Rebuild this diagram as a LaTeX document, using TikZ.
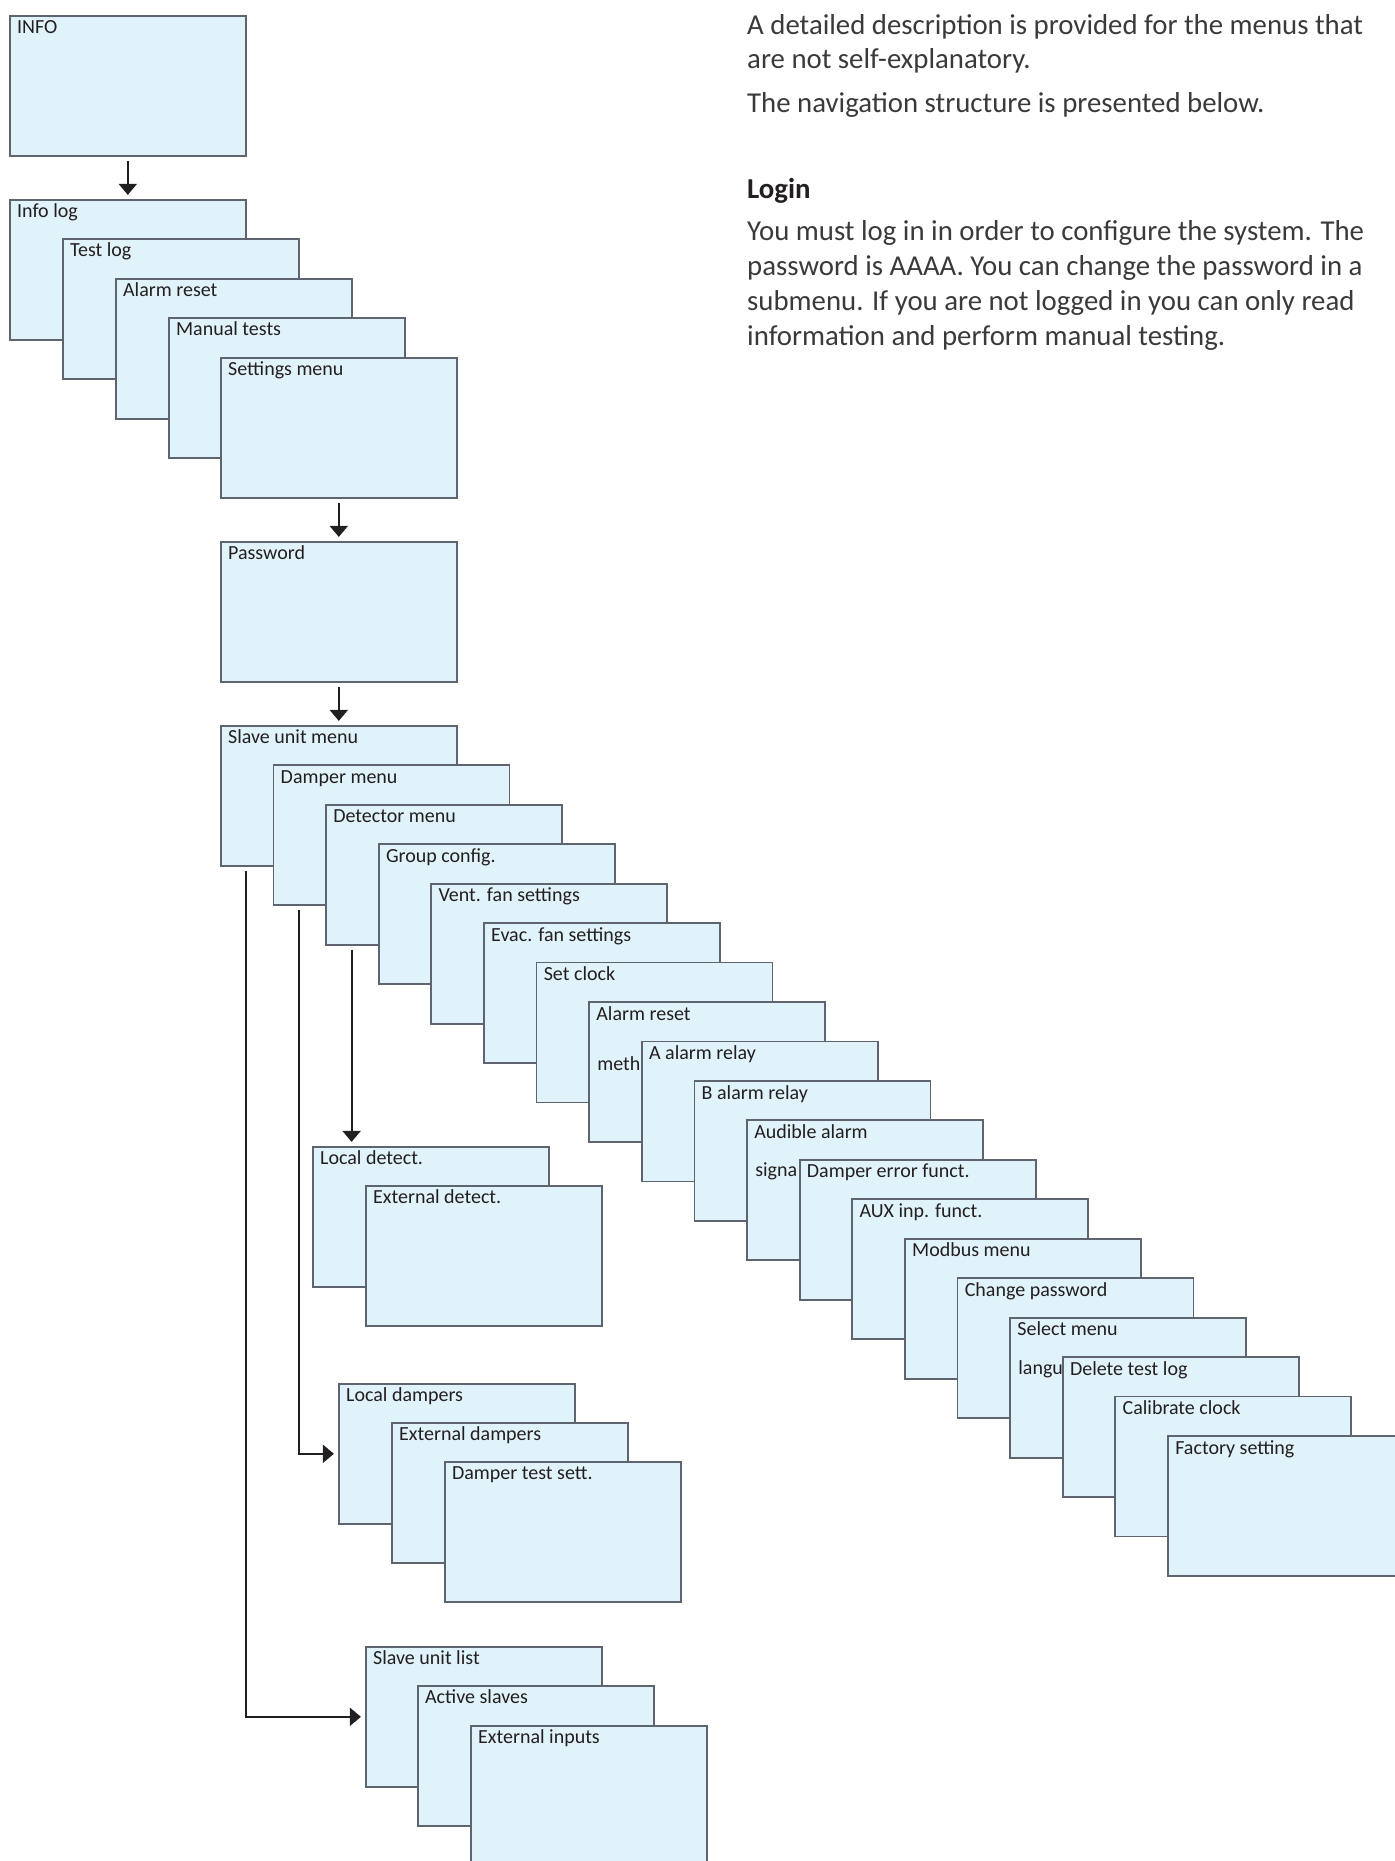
\documentclass[tikz,border=0pt]{standalone}
\usepackage{fontspec}
\setmainfont{Carlito}
\usetikzlibrary{arrows.meta}
\definecolor{boxfill}{HTML}{E0F2FA}
\definecolor{boxline}{HTML}{5E6570}
\definecolor{ink}{HTML}{231F20}
\definecolor{bodytext}{HTML}{3A3A3A}
\tikzset{
 mbox/.style={draw=boxline, line width=1.8pt, fill=boxfill, minimum width=236pt, minimum height=140pt, inner sep=0pt, anchor=north west},
 mlabel/.style={anchor=base west, inner sep=0pt, text=ink, font=\fontsize{20}{24}\selectfont},
 arr/.style={draw=ink, line width=1.9pt, -{Triangle[width=18pt,length=11pt]}, shorten <=4pt, shorten >=4pt},
 body/.style={anchor=base west, inner sep=0pt, text=bodytext, font=\fontsize{28.8}{34}\selectfont},
}
\newcommand{\mbx}[4]{%
 \node[mbox] (#1) at (#2+0.9,#3+0.9) {};
 \node[mlabel] (#1-t) at ([shift={(8,19)}]#1.north west) {#4};
}
\begin{document}
\begin{tikzpicture}[x=1pt,y=-1pt]
\useasboundingbox (0,0) rectangle (1395,1861);
\clip (0,0) rectangle (1395,1861);

% right-hand text
\node[body] (t1) at (747,34) {A detailed description is provided for the menus that};
\node[body] (t2) at (747,68.5) {are not self-explanatory.};
\node[body] (t3) at (747,112) {The navigation structure is presented below.};
\node[body, text=ink, font=\bfseries\fontsize{28.8}{34}\selectfont] (login) at (747,198) {Login};
\node[body] (t4) at (747,240.5) {You must log in in order to configure the system. The};
\node[body] (t5) at (747,275.5) {password is AAAA. You can change the password in a};
\node[body] (t6) at (747,310.5) {submenu. If you are not logged in you can only read};
\node[body] (t7) at (747,345.5) {information and perform manual testing.};

% top group
\mbx{info}{8}{14}{INFO}
\mbx{infolog}{8}{198}{Info log}
\mbx{testlog}{61}{237}{Test log}
\mbx{alarmreset}{114}{277}{Alarm reset}
\mbx{manual}{167}{316}{Manual tests}
\mbx{settings}{219}{356}{Settings menu}
\mbx{password}{219}{540}{Password}

% settings chain
\mbx{slave}{219}{724}{Slave unit menu}
\mbx{damper}{271.6}{763.5}{Damper menu}
\mbx{detector}{324.2}{802.9}{Detector menu}
\mbx{group}{376.9}{842.4}{Group config.}
\mbx{vent}{429.5}{881.8}{Vent. fan settings}
\mbx{evac}{482.1}{921.3}{Evac. fan settings}
\mbx{setclock}{534.7}{960.7}{Set clock}
\mbx{areset}{587.3}{1000.2}{Alarm reset}
\node[mlabel] (areset-2) at ([shift={(9,69)}]areset.north west) {meth};
\mbx{arelay}{640.0}{1039.6}{A alarm relay}
\mbx{brelay}{692.6}{1079.1}{B alarm relay}
\mbx{audible}{745.2}{1118.5}{Audible alarm}
\node[mlabel] (audible-2) at ([shift={(9,57.5)}]audible.north west) {signa};
\mbx{dampererr}{797.8}{1158.0}{Damper error funct.}
\mbx{aux}{850.4}{1197.4}{AUX inp. funct.}
\mbx{modbus}{903.1}{1236.9}{Modbus menu}
\mbx{chpass}{955.7}{1276.3}{Change password}
\mbx{select}{1008.3}{1315.8}{Select menu}
\node[mlabel] (select-2) at ([shift={(9,57.5)}]select.north west) {langu};
\mbx{deltest}{1060.9}{1355.2}{Delete test log}
\mbx{calib}{1113.5}{1394.7}{Calibrate clock}
\mbx{factory}{1166.2}{1434.1}{Factory setting}

% detector submenu
\mbx{locdet}{311}{1145}{Local detect.}
\mbx{extdet}{364}{1184}{External detect.}

% damper submenu
\mbx{locdamp}{337}{1382}{Local dampers}
\mbx{extdamp}{390}{1421}{External dampers}
\mbx{damptest}{443}{1460}{Damper test sett.}

% slave submenu
\mbx{slist}{364}{1645}{Slave unit list}
\mbx{active}{416}{1684}{Active slaves}
\mbx{extin}{469}{1724}{External inputs}

% connectors
\draw[arr] (info) -- (infolog);
\draw[arr] (settings) -- (password);
\draw[arr] (password) -- (slave);
\draw[arr] ([xshift=26.5pt]detector.south west) -- ([xshift=26.5pt]detector.south west |- locdet.north);
\draw[arr] ([xshift=26.5pt]damper.south west) |- (locdamp.west);
\draw[arr] ([xshift=26.5pt]slave.south west) |- (slist.west);
\end{tikzpicture}
\end{document}
